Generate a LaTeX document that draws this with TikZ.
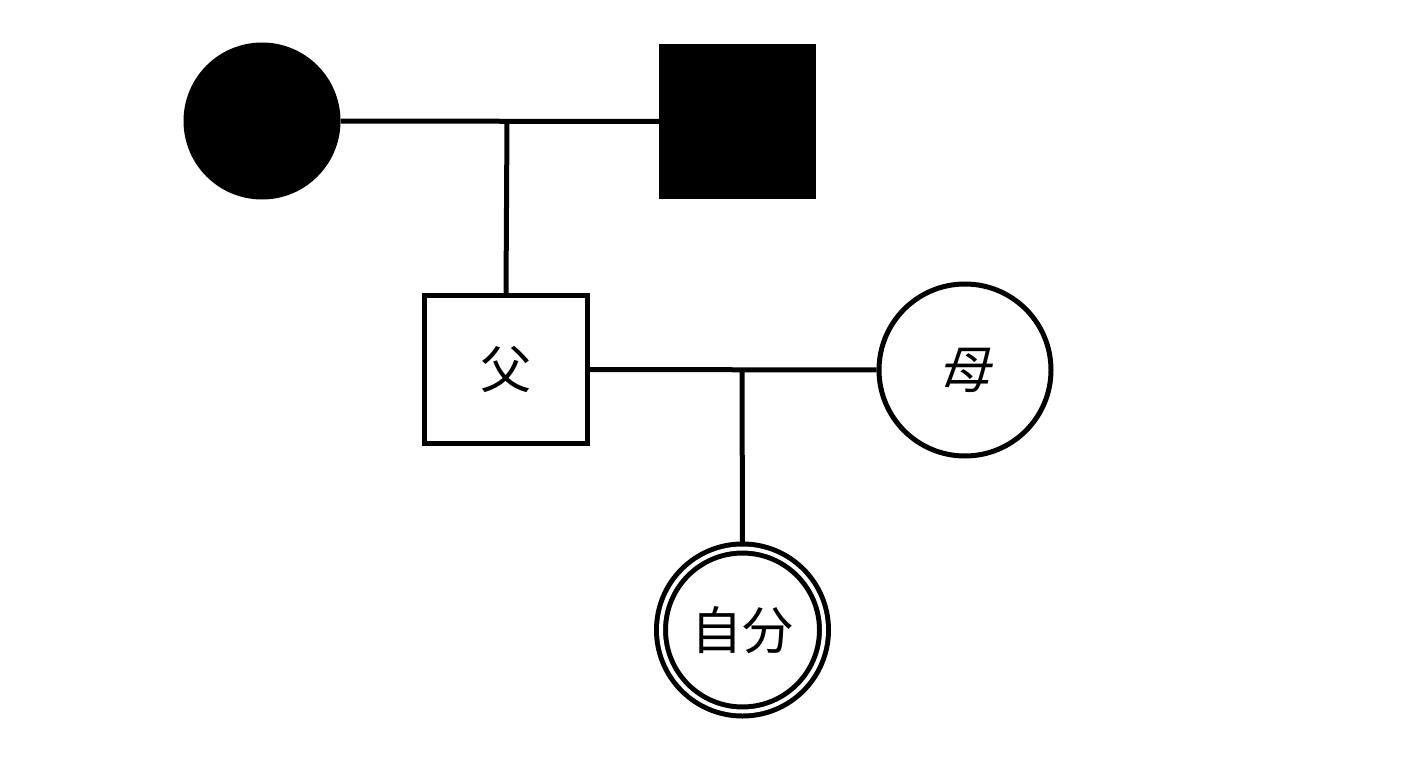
\documentclass[tikz,border=0pt]{standalone}
\usepackage{fontspec}
\newfontfamily\cjk{Noto Sans CJK JP}
\newfontfamily\cjkslant[FakeSlant=0.2]{Noto Sans CJK JP}
\usetikzlibrary{positioning}
\tikzset{
	female/.style={circle, draw, line width=5pt, minimum size=#1, inner sep=0pt},
	male/.style={rectangle, draw, line width=5pt, inner sep=0pt},
	link/.style={line width=5pt}
}

\begin{document}
\begin{tikzpicture}[x=1pt, y=-1pt, font=\cjk\fontsize{51}{60}\selectfont]
		\useasboundingbox (0, 0) rectangle (1414, 760);

		\node[female=152pt, fill=black] (grandma) at (262, 121) {};
		\node[male, fill=black, minimum width=152pt, minimum height=150pt] (grandpa) at (737.5, 121.5) {};

		\node[male, minimum width=163pt, minimum height=148pt] (father) at (506, 369.5) {父};
		\node[female=172pt] (mother) at (965, 370) {\cjkslant 母};
		\node[female=163pt, double, double distance=4pt] (me) at (742.5, 630) {自分};

		\coordinate (gp) at (507, 121);
		\coordinate (p) at (742, 370);

		\draw[link]	(grandma) to (grandpa);
		\draw[link]	(gp) to (father.north);
		\draw[link]	(father) to (mother);
		\draw[link]	(p) to (me.north);
	\end{tikzpicture}
\end{document}
